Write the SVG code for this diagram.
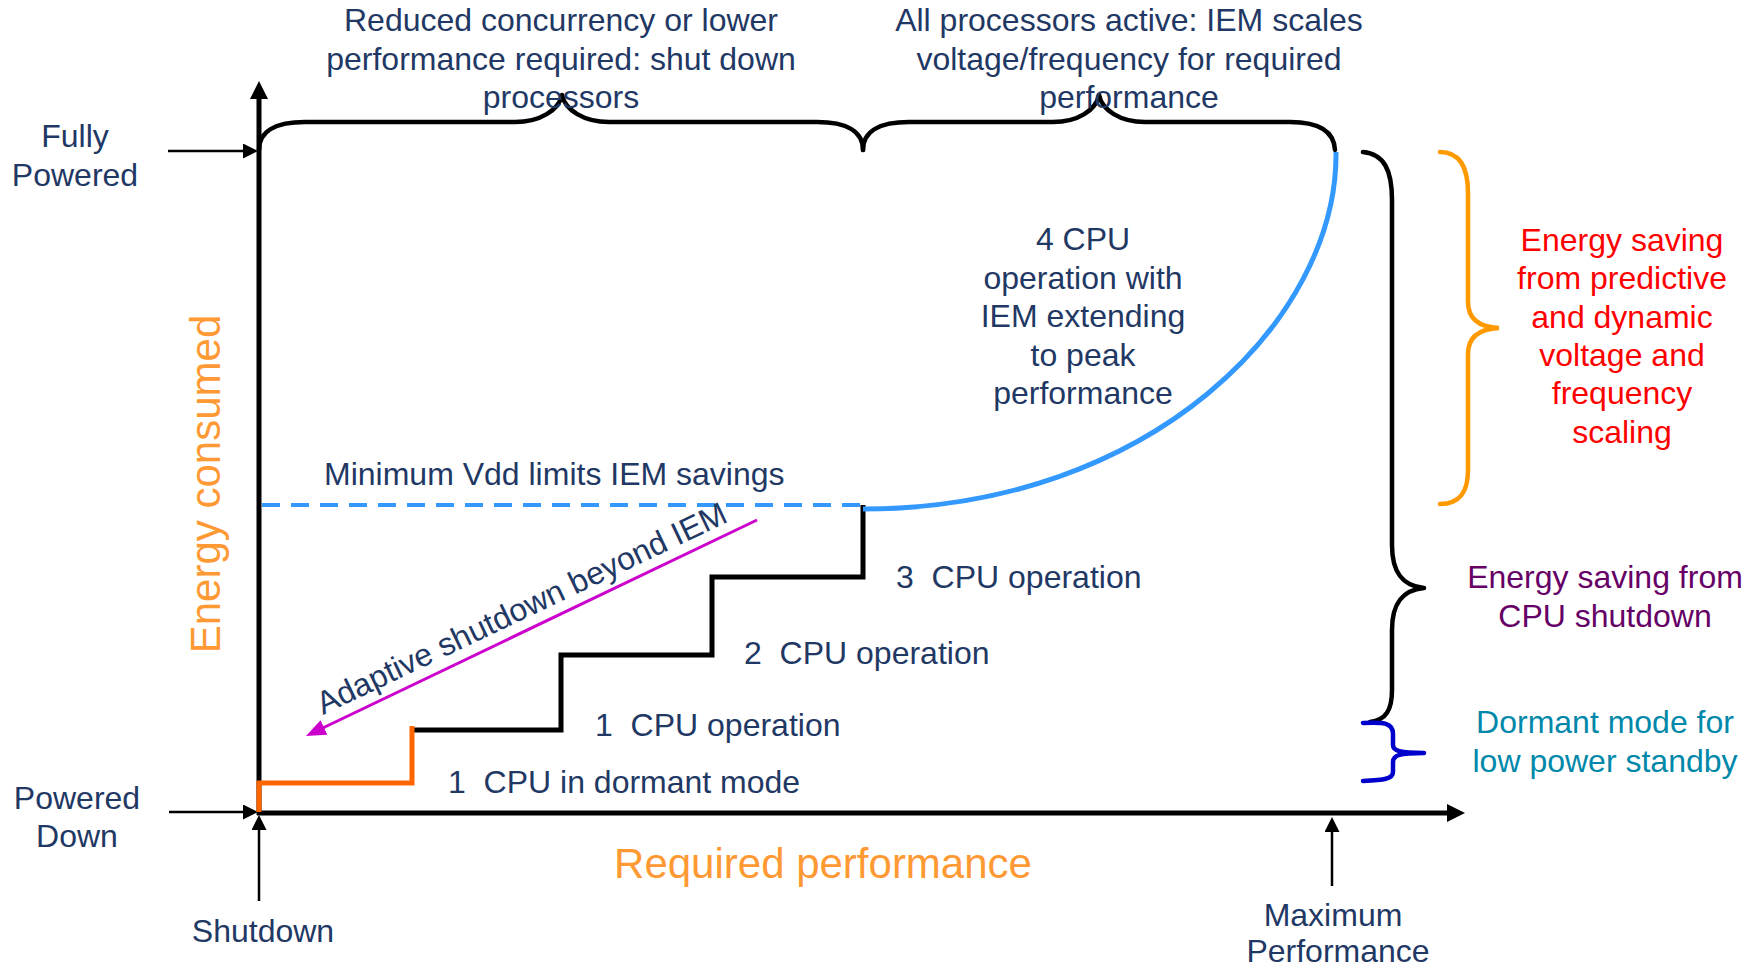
<svg xmlns="http://www.w3.org/2000/svg" width="1758" height="968" viewBox="0 0 1758 968">
  <style>
    text { font-family: "Liberation Sans", Arial, sans-serif; font-size: 32px; fill: #1F3864; }
    .mid { text-anchor: middle; }
    .big { font-size: 42px; fill: #FF9933; }
    .red { fill: #FF0000; }
    .purple { fill: #660066; }
    .teal { fill: #0088AA; }
    .axis { stroke: #000; stroke-width: 5; fill: none; }
    .thin { stroke: #000; stroke-width: 2.5; fill: none; }
    .brace { stroke: #000; stroke-width: 4.5; fill: none; stroke-linecap: round; stroke-linejoin: round; }
    .obrace { stroke: #FF9900; stroke-width: 4.5; fill: none; stroke-linecap: round; }
    .bbrace { stroke: #0000CC; stroke-width: 4.5; fill: none; stroke-linecap: round; }
    .step { stroke: #000; stroke-width: 5; fill: none; }
    .dorm { stroke: #FF6600; stroke-width: 5; fill: none; }
    .iem { stroke: #3399FF; stroke-width: 5; fill: none; }
    .vdd { stroke: #3399FF; stroke-width: 4; fill: none; stroke-dasharray: 18 11; }
    .adapt { stroke: #CC00CC; stroke-width: 3; fill: none; }
  </style>
  <defs>
    <marker id="axisHead" markerUnits="userSpaceOnUse" viewBox="0 0 18 18" refX="8" refY="9" markerWidth="18" markerHeight="18" orient="auto">
      <path d="M0,0 L18,9 L0,18 Z" fill="#000"/>
    </marker>
    <marker id="thinHead" markerUnits="userSpaceOnUse" viewBox="0 0 15 15" refX="5" refY="7.5" markerWidth="15" markerHeight="15" orient="auto">
      <path d="M0,0 L15,7.5 L0,15 Z" fill="#000"/>
    </marker>
    <marker id="adaptHead" markerUnits="userSpaceOnUse" viewBox="0 0 20 16" refX="6" refY="8" markerWidth="20" markerHeight="16" orient="auto">
      <path d="M0,0 L20,8 L0,16 Z" fill="#CC00CC"/>
    </marker>
  </defs>

  <!-- axes and pointer arrows -->
  <g id="connectors">
    <line class="axis" x1="259" y1="815" x2="259" y2="91" marker-end="url(#axisHead)"/>
    <line class="axis" x1="257" y1="813" x2="1455" y2="813" marker-end="url(#axisHead)"/>
    <line class="thin" x1="168" y1="151" x2="248" y2="151" marker-end="url(#thinHead)"/>
    <line class="thin" x1="169" y1="812" x2="248" y2="812" marker-end="url(#thinHead)"/>
    <line class="thin" x1="259" y1="901" x2="259" y2="825" marker-end="url(#thinHead)"/>
    <line class="thin" x1="1332" y1="886" x2="1332" y2="827" marker-end="url(#thinHead)"/>
    <line class="adapt" x1="757" y1="520" x2="318.6" y2="730" marker-end="url(#adaptHead)"/>
  </g>

  <!-- operating curve -->
  <g id="curve">
    <path class="vdd" d="M262,505 L860,505"/>
    <path class="step" d="M863,505 L863,577 L712,577 L712,655 L561,655 L561,730 L410,730"/>
    <path class="dorm" d="M412,726 L412,783 L259,783 L259,812"/>
    <path class="iem" d="M863,509 C1150,509 1338,320 1336,152"/>
  </g>

  <!-- braces -->
  <g id="braces">
    <path class="brace" d="M259,150 C259,131 276,122 305,122 L515,122 C540,122 559,110 562,95 C565,110 584,122 609,122 L817,122 C846,122 863,131 863,150"/>
    <path class="brace" d="M863,150 C863,131 880,122 909,122 L1053,122 C1078,122 1096,110 1099,95 C1102,110 1120,122 1145,122 L1290,122 C1319,122 1334,131 1335,150"/>
    <path class="brace" d="M1363,152 C1384,154 1392,170 1392,200 L1392,545 C1392,572 1402,586 1424,588 C1402,590 1392,604 1392,630 L1392,690 C1392,710 1386,720 1370,722"/>
    <path class="obrace" d="M1440,152 C1460,152 1468,168 1468,193 L1468,302 C1468,318 1478,327 1499,328 C1478,329 1468,338 1468,354 L1468,470 C1468,492 1460,504 1440,504"/>
    <path class="bbrace" d="M1363,723 C1382,722 1393,722 1393,734 L1393,745 C1393,751 1400,753 1424,753 M1424,753 C1400,753 1393,755 1393,762 L1393,772 C1393,779 1384,780 1363,781"/>
  </g>

  <g id="label-top-left">
    <text class="mid" x="561" y="31">Reduced concurrency or lower</text>
    <text class="mid" x="561" y="70">performance required: shut down</text>
    <text class="mid" x="561" y="108">processors</text>
  </g>
  <g id="label-top-right">
    <text class="mid" x="1129" y="31">All processors active: IEM scales</text>
    <text class="mid" x="1129" y="70">voltage/frequency for required</text>
    <text class="mid" x="1129" y="108">performance</text>
  </g>
  <g id="label-fully-powered">
    <text class="mid" x="75" y="147">Fully</text>
    <text class="mid" x="75" y="186">Powered</text>
  </g>
  <g id="label-powered-down">
    <text class="mid" x="77" y="809">Powered</text>
    <text class="mid" x="77" y="847">Down</text>
  </g>
  <g id="label-shutdown">
    <text class="mid" x="263" y="942">Shutdown</text>
  </g>
  <g id="label-max-performance">
    <text class="mid" x="1333" y="926">Maximum</text>
    <text class="mid" x="1338" y="962">Performance</text>
  </g>
  <g id="label-energy">
    <text class="mid big" x="220" y="484" transform="rotate(-90 220 484)">Energy consumed</text>
  </g>
  <g id="label-performance">
    <text class="mid big" x="823" y="878">Required performance</text>
  </g>
  <g id="label-4cpu">
    <text class="mid" x="1083" y="250">4 CPU</text>
    <text class="mid" x="1083" y="289">operation with</text>
    <text class="mid" x="1083" y="327">IEM extending</text>
    <text class="mid" x="1083" y="366">to peak</text>
    <text class="mid" x="1083" y="404">performance</text>
  </g>
  <g id="label-vdd">
    <text x="324" y="485">Minimum Vdd limits IEM savings</text>
  </g>
  <g id="label-adaptive">
    <text x="323" y="715" transform="rotate(-25.5 323 715)">Adaptive shutdown beyond IEM</text>
  </g>
  <g id="label-steps">
    <text x="896" y="588" xml:space="preserve">3  CPU operation</text>
    <text x="744" y="664" xml:space="preserve">2  CPU operation</text>
    <text x="595" y="736" xml:space="preserve">1  CPU operation</text>
    <text x="448" y="793" xml:space="preserve">1  CPU in dormant mode</text>
  </g>
  <g id="label-dvfs">
    <text class="mid red" x="1622" y="251">Energy saving</text>
    <text class="mid red" x="1622" y="289">from predictive</text>
    <text class="mid red" x="1622" y="328">and dynamic</text>
    <text class="mid red" x="1622" y="366">voltage and</text>
    <text class="mid red" x="1622" y="404">frequency</text>
    <text class="mid red" x="1622" y="443">scaling</text>
  </g>
  <g id="label-cpu-shutdown">
    <text class="mid purple" x="1605" y="588">Energy saving from</text>
    <text class="mid purple" x="1605" y="627">CPU shutdown</text>
  </g>
  <g id="label-dormant">
    <text class="mid teal" x="1605" y="733">Dormant mode for</text>
    <text class="mid teal" x="1605" y="772">low power standby</text>
  </g>
</svg>
